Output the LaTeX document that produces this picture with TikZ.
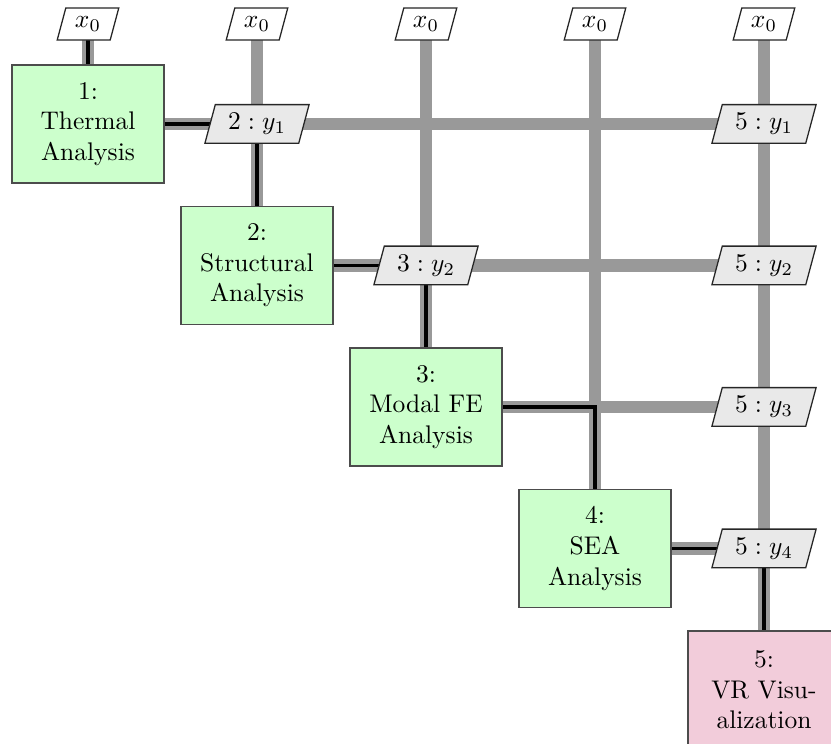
\documentclass[tikz,border=0pt]{standalone}
\usetikzlibrary{shapes.geometric,backgrounds}
\definecolor{fngreen}{RGB}{204,255,204}
\definecolor{fnpink}{RGB}{242,204,218}
\definecolor{datagray}{RGB}{233,233,233}
\definecolor{linegray}{RGB}{153,153,153}
\tikzset{
  fnbox/.style={draw=black!70, line width=0.5pt, fill=fngreen,
    minimum width=59.6pt, minimum height=46.3pt, align=center, inner sep=2pt},
  vizbox/.style={fnbox, fill=fnpink},
  iodata/.style={draw=black!85, line width=0.5pt, fill=white, trapezium,
    trapezium left angle=75, trapezium right angle=105,
    inner xsep=3.6pt, inner ysep=3.4pt},
  interdata/.style={iodata, fill=datagray, inner xsep=5pt},
  dataline/.style={draw=linegray, line width=5pt},
  procline/.style={draw=black, line width=1.3pt}
}
\begin{document}
\begin{tikzpicture}[x=0.3922pt, y=-0.3922pt]
  \useasboundingbox (0,0) rectangle (831,744);

  % inputs
  \node[iodata] (x1) at (88,24)  {$x_0$};
  \node[iodata] (x2) at (257,24) {$x_0$};
  \node[iodata] (x3) at (426,24) {$x_0$};
  \node[iodata] (x4) at (595,24) {$x_0$};
  \node[iodata] (x5) at (764,24) {$x_0$};

  % analyses on the diagonal
  \node[fnbox]  (b1) at (88,124)    {1:\\Thermal\\Analysis};
  \node[fnbox]  (b2) at (257,265.5) {2:\\Structural\\Analysis};
  \node[fnbox]  (b3) at (426,407)   {3:\\Modal FE\\Analysis};
  \node[fnbox]  (b4) at (595,548.5) {4:\\SEA\\Analysis};
  \node[vizbox] (b5) at (764,690)   {5:\\VR Visu-\\alization};

  % coupling data
  \node[interdata] (d12) at (257,124)   {$2:y_1$};
  \node[interdata] (d15) at (764,124)   {$5:y_1$};
  \node[interdata] (d23) at (426,265.5) {$3:y_2$};
  \node[interdata] (d25) at (764,265.5) {$5:y_2$};
  \node[interdata] (d35) at (764,407)   {$5:y_3$};
  \node[interdata] (d45) at (764,548.5) {$5:y_4$};

  \begin{scope}[on background layer]
    % data flow
    \draw[dataline] (x1.center) -- (b1.center);
    \draw[dataline] (x2.center) -- (b2.center);
    \draw[dataline] (x3.center) -- (b3.center);
    \draw[dataline] (x4.center) -- (b4.center);
    \draw[dataline] (x5.center) -- (b5.center);
    \draw[dataline] (b1.center) -- (d15.center);
    \draw[dataline] (b2.center) -- (d25.center);
    \draw[dataline] (b3.center) -- (d35.center);
    \draw[dataline] (b4.center) -- (d45.center);
    % process flow
    \draw[procline] (x1.center) -- (b1.center);
    \draw[procline] (b1.center) -| (b2.center);
    \draw[procline] (b2.center) -| (b3.center);
    \draw[procline] (b3.center) -| (b4.center);
    \draw[procline] (b4.center) -| (b5.center);
  \end{scope}
\end{tikzpicture}
\end{document}
